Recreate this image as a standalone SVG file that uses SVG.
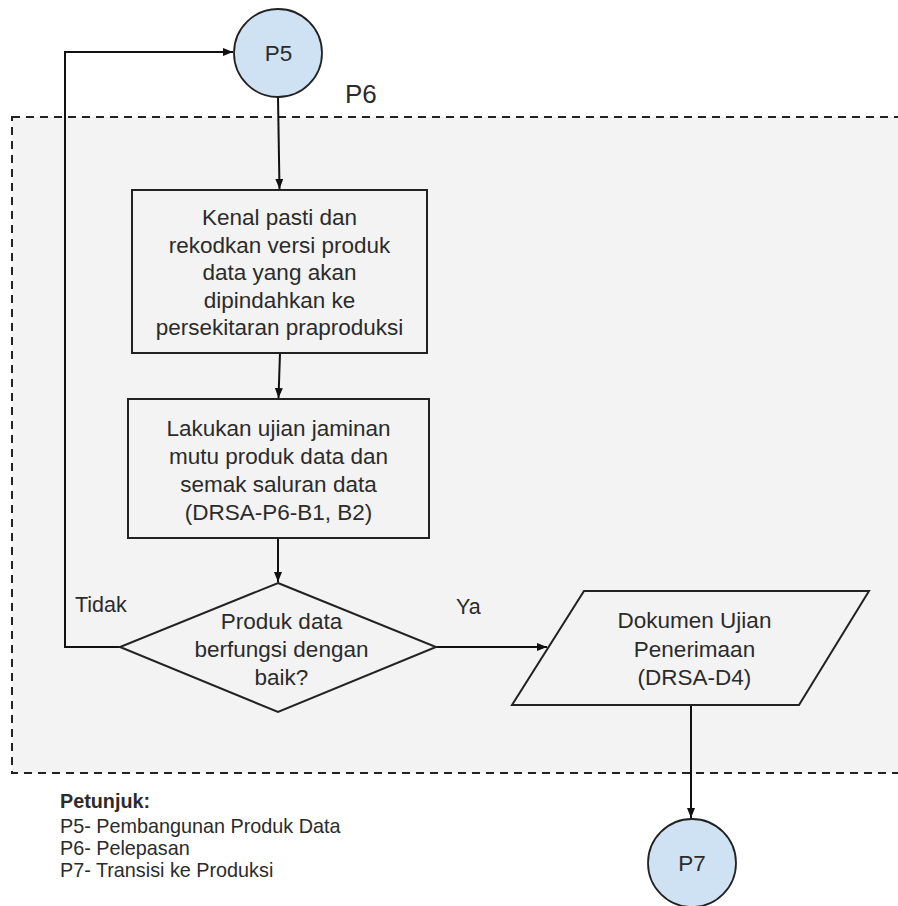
<svg xmlns="http://www.w3.org/2000/svg" width="898" height="906" viewBox="0 0 898 906">
<defs>
<style>
.t{font-family:"Liberation Sans",Arial,sans-serif;font-size:22.5px;fill:#2b2b2b;text-anchor:middle}
.l{font-family:"Liberation Sans",Arial,sans-serif;font-size:19.8px;fill:#2b2b2b}
.shape{fill:none;stroke:#222;stroke-width:2}
.circ{fill:#cfe2f3;stroke:#222;stroke-width:1.8}
.edge{fill:none;stroke:#111;stroke-width:2}
</style>
<marker id="ah" viewBox="0 0 10 8" refX="10" refY="4" markerWidth="10" markerHeight="8" markerUnits="userSpaceOnUse" orient="auto">
<path d="M0,0 L10,4 L0,8 z" fill="#111"/>
</marker>
</defs>
<rect width="898" height="906" fill="#ffffff"/>
<g id="p6-frame">
<rect x="12" y="117" width="900" height="656" fill="#f3f3f3" stroke="#222" stroke-width="2" stroke-dasharray="8,6"/>
<text x="345" y="103" style="font-family:'Liberation Sans',Arial,sans-serif;font-size:26px;fill:#2b2b2b">P6</text>
</g>
<g id="connectors">
<path class="edge" d="M278,97 L279.5,189" marker-end="url(#ah)"/>
<path class="edge" d="M280,353 L278.5,398" marker-end="url(#ah)"/>
<path class="edge" d="M278,538 L278,582" marker-end="url(#ah)"/>
<path class="edge" d="M120,647 L65,647 L65,52 L233,52" marker-end="url(#ah)"/>
<path class="edge" d="M436,647 L547,647" marker-end="url(#ah)"/>
<path class="edge" d="M691,705 L691,818" marker-end="url(#ah)"/>
<text class="l" x="75" y="612" style="font-size:21.5px">Tidak</text>
<text class="l" x="456" y="614" style="font-size:21.5px">Ya</text>
</g>
<g id="p5">
<circle class="circ" cx="278" cy="53" r="44"/>
<text class="t" x="278.5" y="61">P5</text>
</g>
<g id="step1">
<rect class="shape" x="132" y="190" width="295" height="163"/>
<text class="t" x="279.5" y="225">Kenal pasti dan</text>
<text class="t" x="279.5" y="252.5">rekodkan versi produk</text>
<text class="t" x="279.5" y="280">data yang akan</text>
<text class="t" x="279.5" y="307.5">dipindahkan ke</text>
<text class="t" x="279.5" y="335">persekitaran praproduksi</text>
</g>
<g id="step2">
<rect class="shape" x="128" y="399" width="301" height="139"/>
<text class="t" x="278.5" y="436">Lakukan ujian jaminan</text>
<text class="t" x="278.5" y="464">mutu produk data dan</text>
<text class="t" x="278.5" y="492">semak saluran data</text>
<text class="t" x="278.5" y="520">(DRSA-P6-B1, B2)</text>
</g>
<g id="decision">
<path class="shape" d="M278,583 L436,647 L278,712 L120,647 Z"/>
<text class="t" x="281.5" y="629">Produk data</text>
<text class="t" x="281.5" y="657">berfungsi dengan</text>
<text class="t" x="281.5" y="685">baik?</text>
</g>
<g id="document">
<path class="shape" d="M584,591 L869,591 L799,705 L512,705 Z"/>
<text class="t" x="694.5" y="628">Dokumen Ujian</text>
<text class="t" x="694.5" y="657">Penerimaan</text>
<text class="t" x="694.5" y="685">(DRSA-D4)</text>
</g>
<g id="p7">
<circle class="circ" cx="692" cy="863" r="44"/>
<text class="t" x="692" y="871">P7</text>
</g>
<g id="legend">
<text class="l" x="60" y="808" font-weight="bold">Petunjuk:</text>
<text class="l" x="60" y="833">P5- Pembangunan Produk Data</text>
<text class="l" x="60" y="855">P6- Pelepasan</text>
<text class="l" x="60" y="877">P7- Transisi ke Produksi</text>
</g>
</svg>
